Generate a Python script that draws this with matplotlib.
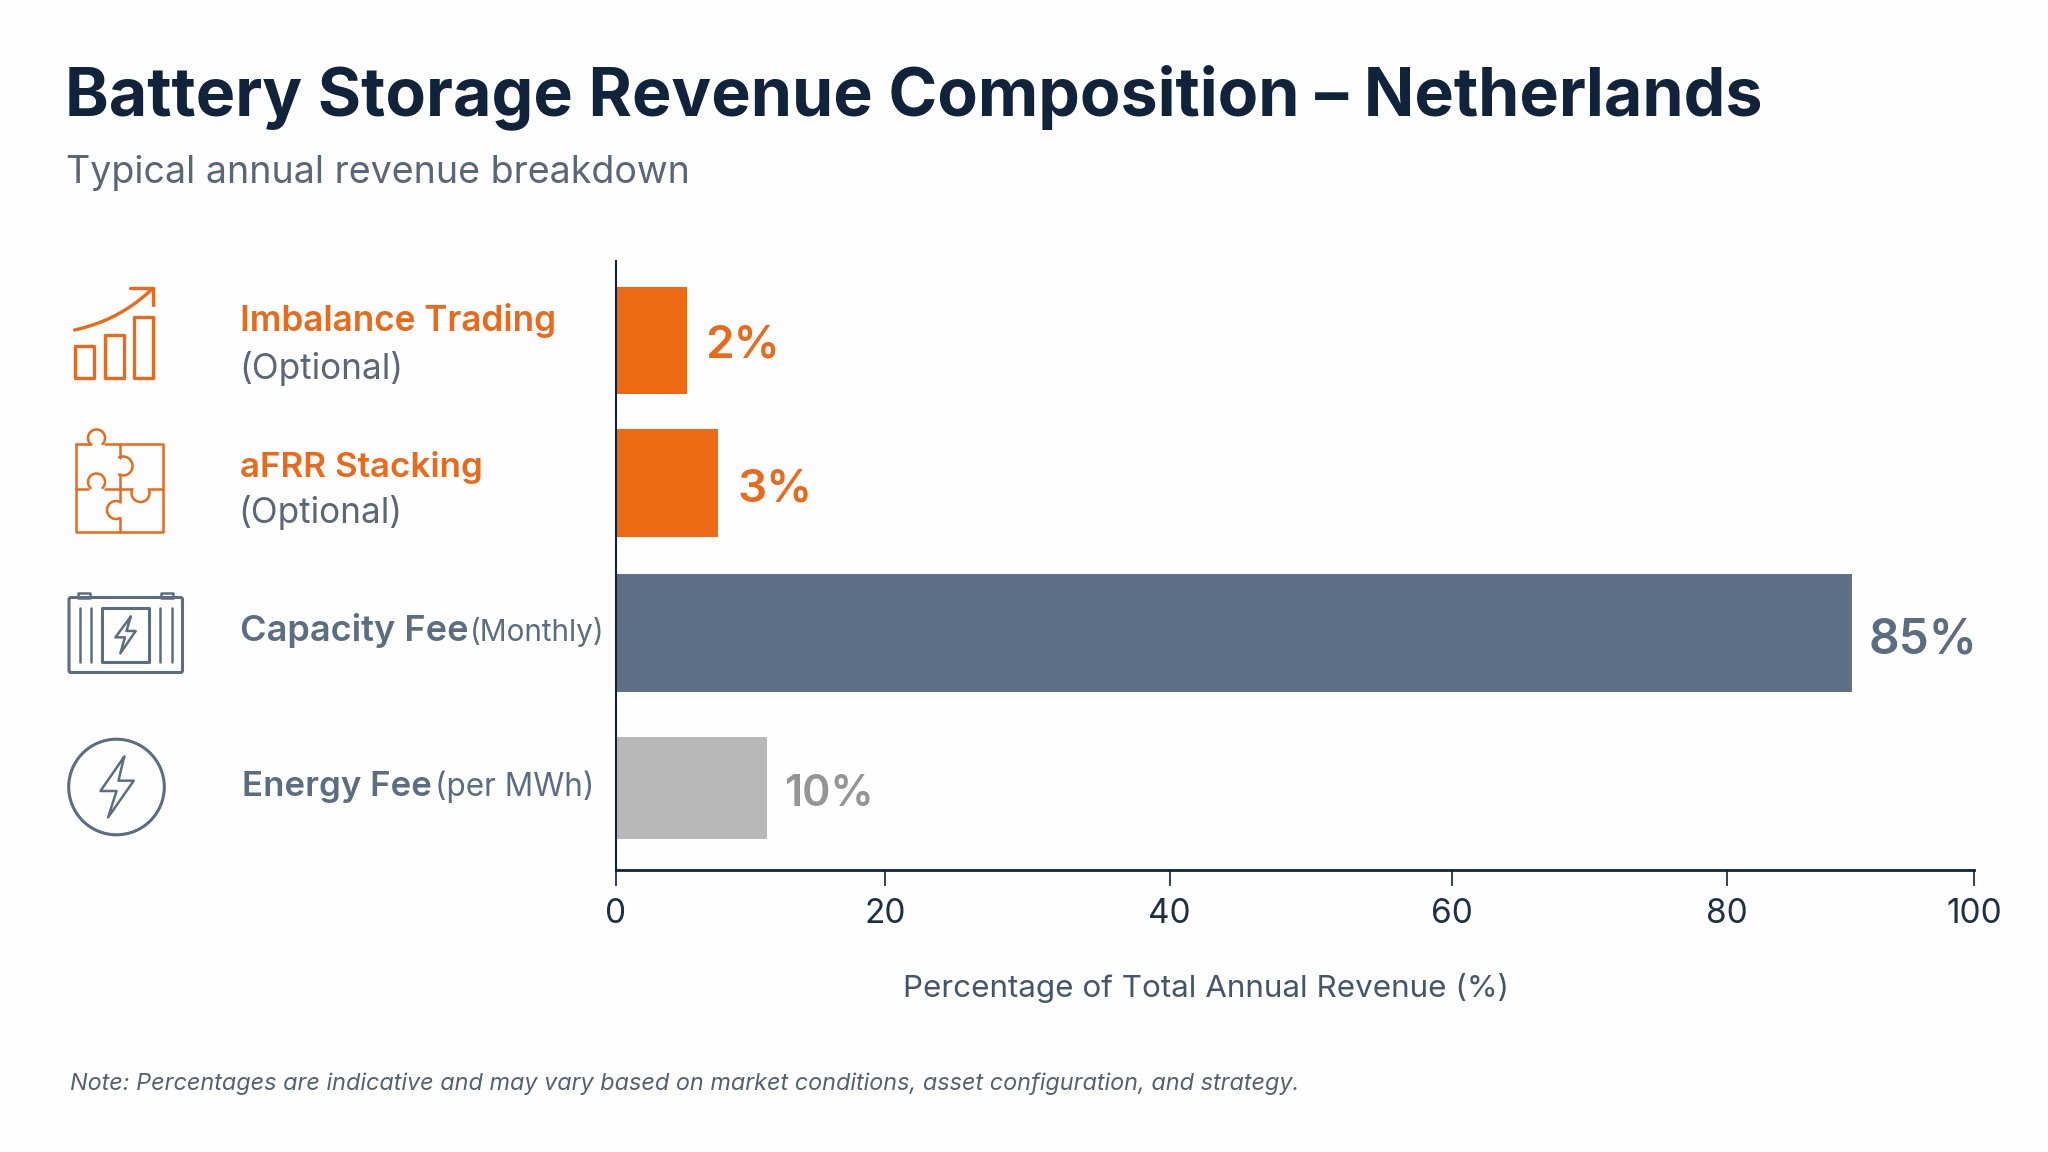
import numpy as np
import matplotlib
matplotlib.use("Agg")
import matplotlib.pyplot as plt
from matplotlib.patches import Circle, Rectangle, FancyBboxPatch

# bar lengths, the printed labels are what the chart says
categories = ["Imbalance Trading", "aFRR Stacking", "Capacity Fee", "Energy Fee"]
qualifiers = ["(Optional)", "(Optional)", "(Monthly)", "(per MWh)"]
bar_lengths = [5.3, 7.6, 90.1, 11.2]
value_labels = ["2%", "3%", "85%", "10%"]
x_ticks = [0, 20, 40, 60, 80, 100]

# the axis in the picture is not evenly spaced, tick pixels from the zoom
tick_pixels = [615, 884, 1169, 1452, 1727, 1974]

ORANGE = "#ef6a14"
ORANGE_TXT = "#ea6a1c"
SLATE = "#5f7086"
SLATE_TXT = "#5d6d80"
GREY = "#b8b8ba"
GREY_TXT = "#939597"
NAVY = "#10233a"
SUB = "#5b6777"
bar_colors = [ORANGE, ORANGE, SLATE, GREY]
value_colors = [ORANGE_TXT, ORANGE_TXT, SLATE_TXT, GREY_TXT]

bar_centers = [340, 483, 633, 788]
bar_heights = [107, 108, 118, 102]

plt.rcParams["font.family"] = "Inter"

fig = plt.figure(figsize=(20.48, 11.52), dpi=100, facecolor="#fefefe")

L, R, T, B = 616, 1974, 261, 870
ax = fig.add_axes([L / 2048, 1 - B / 1152, (R - L) / 2048, (B - T) / 1152])
ax.set_facecolor("none")


def forward(v):
    return np.interp(v, x_ticks, tick_pixels)


def inverse(p):
    return np.interp(p, tick_pixels, x_ticks)


ax.set_xscale("function", functions=(forward, inverse))
ax.set_xlim(0, 100)
ax.set_ylim(B, T)
ax.barh(bar_centers, bar_lengths, height=bar_heights, color=bar_colors, linewidth=0)

ax.spines["top"].set_visible(False)
ax.spines["right"].set_visible(False)
ax.spines["left"].set_linewidth(1.5)
ax.spines["left"].set_color(NAVY)
ax.spines["bottom"].set_linewidth(2)
ax.spines["bottom"].set_color(NAVY)
ax.set_yticks([])
ax.set_xticks(x_ticks)
ax.set_xticklabels([str(t) for t in x_ticks], fontsize=24, color="#1f3044")
ax.tick_params(axis="x", length=11.5, width=1.2, color=NAVY, pad=9)
ax.minorticks_off()

# everything else is placed in figure pixels on an overlay
ov = fig.add_axes([0, 0, 1, 1])
ov.set_xlim(0, 2048)
ov.set_ylim(1152, 0)
ov.axis("off")

ov.text(65, 97, "Battery Storage Revenue Composition – Netherlands", fontsize=47.7,
        fontweight="bold", color=NAVY, va="center")
ov.text(66, 173, "Typical annual revenue breakdown", fontsize=27.1, color=SUB, va="center")
ov.text(1206, 988, "Percentage of Total Annual Revenue (%)", fontsize=22.6, color="#46566a",
        ha="center", va="center")
ov.text(70, 1084, "Note: Percentages are indicative and may vary based on market conditions, "
        "asset configuration, and strategy.", fontsize=16.85, style="italic", color="#56616f",
        va="center")

ov.text(240, 321, categories[0], fontsize=25.3, fontweight="semibold", color=ORANGE_TXT, va="center")
ov.text(239, 369, qualifiers[0], fontsize=25.3, color=SUB, va="center")
ov.text(240, 468, categories[1], fontsize=25.2, fontweight="semibold", color=ORANGE_TXT, va="center")
ov.text(238, 513, qualifiers[1], fontsize=25.3, color=SUB, va="center")
ov.text(240, 631, categories[2], fontsize=26, fontweight="semibold", color=SLATE_TXT, va="center")
ov.text(470, 632, qualifiers[2], fontsize=21.4, color=SLATE_TXT, va="center")
ov.text(242, 787, categories[3], fontsize=25.1, fontweight="semibold", color=SLATE_TXT, va="center")
ov.text(435, 787, qualifiers[3], fontsize=22.7, color=SLATE_TXT, va="center")

value_x = [705, 737, 1869, 784]
value_sizes = [33, 33, 34.5, 31]
value_dy = [5, 6, 7, 6]
for i in range(4):
    ov.text(value_x[i], bar_centers[i] + value_dy[i], value_labels[i], fontsize=value_sizes[i],
            fontweight="semibold", color=value_colors[i], va="center")


def stroke(xs, ys, color, lw=2.4):
    ov.plot(xs, ys, color=color, lw=lw, solid_capstyle="round", solid_joinstyle="round")


def box(x0, y0, x1, y1, color, lw=2.4):
    ov.add_patch(Rectangle((x0, y0), x1 - x0, y1 - y0, fill=False, edgecolor=color, lw=lw,
                           joinstyle="round"))


def knob(cx, cy, r, start, end, color):
    # small arc for the puzzle tabs, angles in degrees in pixel space
    a = np.radians(np.linspace(start, end, 40))
    stroke(cx + r * np.cos(a), cy + r * np.sin(a), color, lw=1.8)


# growth icon
box(74.5, 346, 93.5, 378, ORANGE_TXT)
box(104.5, 335, 123.5, 378, ORANGE_TXT)
box(134, 317, 153, 378, ORANGE_TXT)
t = np.linspace(0, 1, 40)
stroke((1 - t) ** 2 * 74.5 + 2 * t * (1 - t) * 120 + t ** 2 * 152,
       (1 - t) ** 2 * 330 + 2 * t * (1 - t) * 320 + t ** 2 * 289, ORANGE_TXT)
stroke([130, 153, 153], [288, 288, 305], ORANGE_TXT)

# puzzle icon
c = ORANGE_TXT
stroke([76, 88], [444, 444], c, 1.8)
stroke([105, 163, 163, 76, 76], [444, 444, 532, 532, 444], c, 1.8)
knob(96.5, 438, 8.5, 135, 405, c)
stroke([88, 90.5], [444, 444], c, 1.8)
stroke([119.5, 119.5], [444, 458], c, 1.8)
knob(123, 466, 9.5, -115, 115, c)
stroke([119.5, 119.5], [474, 502], c, 1.8)
knob(116, 510, 9, 65, 295, c)
stroke([119.5, 119.5], [518, 532], c, 1.8)
stroke([76, 88], [488.5, 488.5], c, 1.8)
knob(96.5, 482, 8.5, 135, 405, c)
stroke([105, 131], [488.5, 488.5], c, 1.8)
knob(140.5, 493, 9, -25, 205, c)
stroke([150, 163], [488.5, 488.5], c, 1.8)

# battery icon
c = SLATE_TXT
ov.add_patch(FancyBboxPatch((69, 597.5), 113.5, 75, boxstyle="round,pad=0,rounding_size=2",
                            fill=False, edgecolor=c, lw=2.2))
box(77.5, 592.5, 90, 597.5, c, 1.8)
box(161, 592.5, 173, 597.5, c, 1.8)
box(101.5, 608, 149, 661.5, c, 2.2)
for lx in [79.5, 90.5, 160, 171.5]:
    stroke([lx, lx], [608, 661.5], c, 1.8)
stroke(np.array([237, 197, 222, 210, 250, 226, 237]) / 2.613 + 40,
       np.array([170, 232, 232, 280, 213, 213, 170]) / 3 + 560, c, 1.8)

# energy icon
ov.add_patch(Circle((116.5, 787), 47.8, fill=False, edgecolor=c, lw=2.2))
stroke(np.array([220, 158, 200, 178, 245, 205, 220]) / 2.613 + 40,
       np.array([590, 693, 693, 772, 662, 662, 590]) / 3 + 560, c, 1.8)

fig.savefig("out.png", dpi=100, facecolor=fig.get_facecolor())
